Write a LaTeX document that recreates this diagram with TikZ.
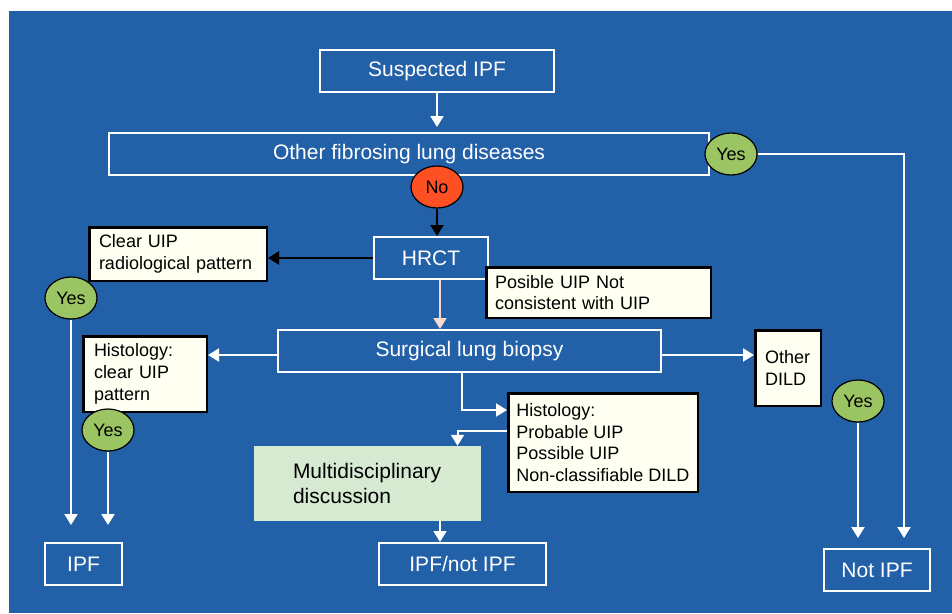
\documentclass[tikz,border=0pt]{standalone}
\usepackage{fontspec}
\setmainfont{Liberation Sans}
\usetikzlibrary{arrows.meta,shapes.geometric}

\begin{document}
\begin{tikzpicture}
    [x=1pt, y=-1pt,
    %Option for the arrow tips
    >={Triangle[width=13pt,length=11pt]},
    box/.style={draw=white, line width=2pt, text=white, inner sep=0pt,
        minimum height=42pt, font=\fontsize{21pt}{25pt}\selectfont},
    note/.style={draw=black, line width=2.5pt, fill=cream, text=black,
        align=left, inner sep=0pt, font=\fontsize{18pt}{21.7pt}\selectfont},
    answer/.style={ellipse, draw=black, line width=1.2pt, fill=#1,
        minimum width=52pt, minimum height=42pt, inner sep=0pt,
        font=\fontsize{18pt}{20pt}\selectfont},
    link/.style={->, draw=white, line width=2pt},
    blacklink/.style={->, draw=black, line width=2.5pt}]

    % Colors
    \definecolor{slide}{RGB}{34,96,168}
    \definecolor{cream}{RGB}{255,255,242}
    \definecolor{yesgreen}{RGB}{155,197,98}
    \definecolor{nored}{RGB}{255,80,35}
    \definecolor{mdtgreen}{RGB}{214,234,210}
    \definecolor{salmon}{RGB}{250,218,208}

    % Background
    \fill[white] (0,0) rectangle (952,613);
    \fill[slide] (9,11) rectangle (952,613);

    % Main column
    \node[box, minimum width=234pt] (susp) at (437,71) {Suspected IPF};
    \node[box, minimum width=600pt] (fibro) at (409,154) {Other fibrosing lung diseases};
    \node[box, minimum width=114pt] (hrct) at (431,258) {HRCT};
    \node[box, minimum width=383pt] (slb) at (469.5,351) {Surgical lung biopsy};

    % Findings
    \node[note, text width=158pt, minimum width=177.5pt, minimum height=53.5pt]
        (clearuip) at (178,254) {Clear UIP\\radiological pattern};
    \node[note, text width=207pt, minimum width=224.5pt, minimum height=50.5pt]
        (possible) at (598.5,292.5) {Posible UIP Not\\consistent with UIP};
    \node[note, text width=102pt, minimum width=123.5pt, minimum height=75.5pt]
        (histclear) at (145,374) {Histology:\\clear UIP\\pattern};
    \node[note, text width=46pt, minimum width=65.5pt, minimum height=75.5pt]
        (otherdild) at (788,368) {Other\\DILD};
    \node[note, minimum width=189.5pt, minimum height=98.5pt]
        (histprob) at (603,442.5) {Histology:\\Probable UIP\\Possible UIP\\Non-classifiable DILD};
    \node[fill=mdtgreen, text=black, align=left, inner sep=0pt, text width=149pt,
        minimum width=227pt, minimum height=75pt, font=\fontsize{21pt}{25pt}\selectfont]
        (multi) at (367.5,483.5) {Multidisciplinary\\discussion};

    % Outcomes
    \node[box, minimum width=77pt] (ipf) at (83.5,564) {IPF};
    \node[box, minimum width=167pt] (ipfnot) at (462.5,564) {IPF/not IPF};
    \node[box, minimum width=106pt] (notipf) at (877,570) {Not IPF};

    % Connectors
    \draw[link, shorten >=5pt] (susp.south) -- (susp.south |- fibro.north);
    \draw[link, draw=salmon] ([xshift=9pt]hrct.south) -- ([xshift=9pt]hrct.south |- slb.north);
    \draw[link] ([yshift=-4pt]slb.west) -- ([yshift=-4pt]slb.west -| histclear.east);
    \draw[link] ([yshift=-4pt]slb.east) -- ([yshift=-4pt]slb.east -| otherdild.west);
    \draw[link] ([xshift=-8pt]slb.south) |- ([yshift=32.5pt]histprob.west);
    \draw[link] ([yshift=11.5pt]histprob.west) -| ([xshift=90pt]multi.north);
    \draw[link] ([xshift=72.5pt]multi.south) -- ([xshift=72.5pt]multi.south |- ipfnot.north);

    % Answers
    \node[answer=nored] (no) at (437,187) {No};
    \node[answer=yesgreen] (yes1) at (731,154) {Yes};
    \node[answer=yesgreen] (yes2) at (71,298) {Yes};
    \node[answer=yesgreen] (yes4) at (108,430) {Yes};
    \node[answer=yesgreen] (yes3) at (858,401) {Yes};

    \draw[blacklink] (no) -- (no |- hrct.north);
    \draw[blacklink] (hrct.west) -- (hrct.west -| clearuip.east);
    \draw[link, shorten >=10pt] (yes1) -| ([xshift=27pt]notipf.north);
    \draw[link, shorten >=10pt] (yes3) -- (yes3 |- notipf.north);
    \draw[link, shorten >=17pt] (yes2) -- (yes2 |- ipf.north);
    \draw[link, shorten >=17pt] (yes4) -- (yes4 |- ipf.north);

\end{tikzpicture}
\end{document}
